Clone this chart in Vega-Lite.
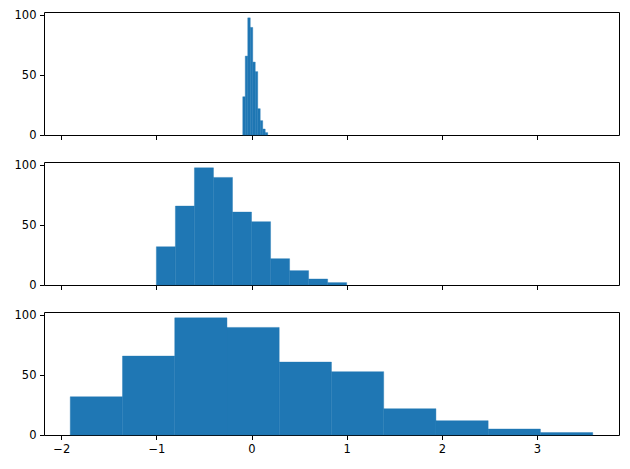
{
  "$schema": "https://vega.github.io/schema/vega-lite/v6.json",
  "padding": {"left": 13, "top": 8, "right": 8, "bottom": 8},
  "background": "white",
  "config": {
    "view": {"stroke": "black", "strokeWidth": 1},
    "font": "DejaVu Sans",
    "axis": {
      "labelFont": "DejaVu Sans", "labelFontSize": 11.5, "labelColor": "black",
      "tickColor": "black", "tickSize": 4.5, "labelPadding": 3.5,
      "domainColor": "black", "grid": false, "title": null
    }
  },
  "datasets": {
    "bins": [
      {"panel": "a", "x0": -0.092, "x1": -0.0658, "count": 32},
      {"panel": "a", "x0": -0.0658, "x1": -0.0396, "count": 66},
      {"panel": "a", "x0": -0.0396, "x1": -0.0134, "count": 98},
      {"panel": "a", "x0": -0.0134, "x1": 0.0128, "count": 90},
      {"panel": "a", "x0": 0.0128, "x1": 0.039, "count": 61},
      {"panel": "a", "x0": 0.039, "x1": 0.0652, "count": 53},
      {"panel": "a", "x0": 0.0652, "x1": 0.0914, "count": 22},
      {"panel": "a", "x0": 0.0914, "x1": 0.1176, "count": 12},
      {"panel": "a", "x0": 0.1176, "x1": 0.1438, "count": 5},
      {"panel": "a", "x0": 0.1438, "x1": 0.17, "count": 2},
      {"panel": "b", "x0": -1.0, "x1": -0.8, "count": 32},
      {"panel": "b", "x0": -0.8, "x1": -0.6, "count": 66},
      {"panel": "b", "x0": -0.6, "x1": -0.4, "count": 98},
      {"panel": "b", "x0": -0.4, "x1": -0.2, "count": 90},
      {"panel": "b", "x0": -0.2, "x1": 0.0, "count": 61},
      {"panel": "b", "x0": 0.0, "x1": 0.2, "count": 53},
      {"panel": "b", "x0": 0.2, "x1": 0.4, "count": 22},
      {"panel": "b", "x0": 0.4, "x1": 0.6, "count": 12},
      {"panel": "b", "x0": 0.6, "x1": 0.8, "count": 5},
      {"panel": "b", "x0": 0.8, "x1": 1.0, "count": 2},
      {"panel": "c", "x0": -1.905, "x1": -1.356, "count": 32},
      {"panel": "c", "x0": -1.356, "x1": -0.807, "count": 66},
      {"panel": "c", "x0": -0.807, "x1": -0.258, "count": 98},
      {"panel": "c", "x0": -0.258, "x1": 0.291, "count": 90},
      {"panel": "c", "x0": 0.291, "x1": 0.84, "count": 61},
      {"panel": "c", "x0": 0.84, "x1": 1.389, "count": 53},
      {"panel": "c", "x0": 1.389, "x1": 1.938, "count": 22},
      {"panel": "c", "x0": 1.938, "x1": 2.487, "count": 12},
      {"panel": "c", "x0": 2.487, "x1": 3.036, "count": 5},
      {"panel": "c", "x0": 3.036, "x1": 3.586, "count": 2}
    ]
  },
  "data": {"name": "bins"},
  "bounds": "flush",
  "spacing": 27,
  "vconcat": [
    {
      "width": 575, "height": 123,
      "transform": [{"filter": "datum.panel === 'a'"}],
      "mark": {"type": "bar", "color": "#1f77b4", "stroke": "#1f77b4", "strokeWidth": 0.4},
      "encoding": {
        "x": {"field": "x0", "type": "quantitative", "scale": {"domain": [-2.181, 3.862], "nice": false, "zero": false}, "axis": {"values": [-2, -1, 0, 1, 2, 3], "labels": false, "domain": false}},
        "x2": {"field": "x1"},
        "y": {"field": "count", "type": "quantitative", "scale": {"domain": [0, 102.9], "nice": false}, "axis": {"values": [0, 50, 100], "domain": false}},
        "y2": {"datum": 0}
      }
    },
    {
      "width": 575, "height": 123,
      "transform": [{"filter": "datum.panel === 'b'"}],
      "mark": {"type": "bar", "color": "#1f77b4", "stroke": "#1f77b4", "strokeWidth": 0.4},
      "encoding": {
        "x": {"field": "x0", "type": "quantitative", "scale": {"domain": [-2.181, 3.862], "nice": false, "zero": false}, "axis": {"values": [-2, -1, 0, 1, 2, 3], "labels": false, "domain": false}},
        "x2": {"field": "x1"},
        "y": {"field": "count", "type": "quantitative", "scale": {"domain": [0, 102.9], "nice": false}, "axis": {"values": [0, 50, 100], "domain": false}},
        "y2": {"datum": 0}
      }
    },
    {
      "width": 575, "height": 123,
      "transform": [{"filter": "datum.panel === 'c'"}],
      "mark": {"type": "bar", "color": "#1f77b4", "stroke": "#1f77b4", "strokeWidth": 0.4},
      "encoding": {
        "x": {"field": "x0", "type": "quantitative", "scale": {"domain": [-2.181, 3.862], "nice": false, "zero": false}, "axis": {"values": [-2, -1, 0, 1, 2, 3], "domain": false}},
        "x2": {"field": "x1"},
        "y": {"field": "count", "type": "quantitative", "scale": {"domain": [0, 102.9], "nice": false}, "axis": {"values": [0, 50, 100], "domain": false}},
        "y2": {"datum": 0}
      }
    }
  ]
}
